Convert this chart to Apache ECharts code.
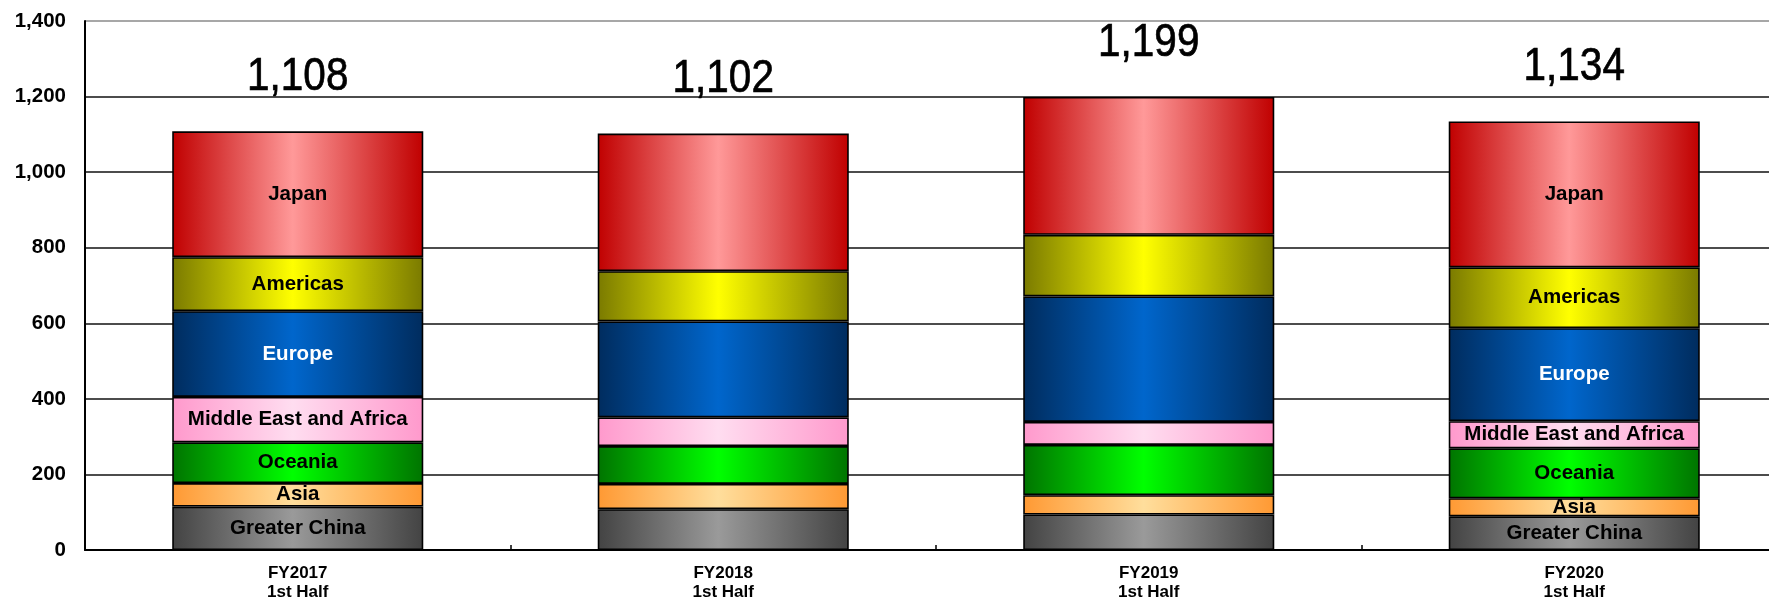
<!DOCTYPE html>
<html>
<head>
<meta charset="utf-8">
<script src="https://cdn.jsdelivr.net/npm/echarts@6/dist/echarts.min.js"></script>
<style>
  html, body { margin: 0; padding: 0; background: #fff; }
  #chart { width: 1769px; height: 602px; }
</style>
</head>
<body>
<div id="chart"></div>
<script>
// ---- data ----
const categories = ['FY2017\n1st Half', 'FY2018\n1st Half', 'FY2019\n1st Half', 'FY2020\n1st Half'];
const regions = ['Greater China', 'Asia', 'Oceania', 'Middle East and Africa', 'Europe', 'Americas', 'Japan'];
const greaterChina = [115, 108, 94, 89];
const asia = [62, 67, 51, 48];
const oceania = [108, 100, 133, 132];
const middleEastAfrica = [120, 76, 61, 72];
const europe = [227, 254, 332, 246];
const americas = [143, 133, 163, 161];
const japan = [333, 364, 365, 386];
const totals = [1108, 1102, 1199, 1134];
const showSegmentLabels = [true, false, false, true];
const yTicks = [0, 200, 400, 600, 800, 1000, 1200, 1400];

// ---- styles ----
const gradientStops = {
  'Greater China': ['#434343', '#9a9a9a'],
  'Asia': ['#FF9933', '#FFDE9C'],
  'Oceania': ['#007400', '#00FF00'],
  'Middle East and Africa': ['#FF99CC', '#FFDDF0'],
  'Europe': ['#002C5E', '#0066CC'],
  'Americas': ['#7A7A00', '#FFFF00'],
  'Japan': ['#C00000', '#FF9999']
};
const labelColors = { 'Europe': '#ffffff' };

const seriesValues = [greaterChina, asia, oceania, middleEastAfrica, europe, americas, japan];

function grad(name) {
  const [edge, mid] = gradientStops[name];
  return new echarts.graphic.LinearGradient(0, 0, 1, 0, [
    { offset: 0, color: edge },
    { offset: 0.48, color: mid },
    { offset: 1, color: edge }
  ]);
}

const fmt = v => Number(v).toLocaleString('en-US');

const barSeries = regions.map((name, si) => ({
  name: name,
  type: 'bar',
  stack: 'total',
  barWidth: '59%',
  itemStyle: { color: grad(name), borderColor: '#000', borderWidth: 1.6 },
  label: {
    position: 'inside',
    formatter: name,
    color: labelColors[name] || '#000',
    fontFamily: 'Liberation Sans, Arial, sans-serif',
    fontWeight: 'bold',
    fontSize: 20.5
  },
  emphasis: { disabled: true },
  data: seriesValues[si].map((v, ci) => ({ value: v, label: { show: showSegmentLabels[ci] } }))
}));

// total labels: narrow-looking text drawn above each stack top
const totalSeries = {
  name: 'Total',
  type: 'custom',
  z: 10,
  data: totals.map((t, i) => [i, t]),
  renderItem: function (params, api) {
    const pt = api.coord([api.value(0), api.value(1)]);
    return {
      type: 'text',
      x: pt[0],
      y: pt[1] - 31,
      scaleX: 0.88,
      style: {
        text: fmt(api.value(1)),
        font: '46px "Liberation Sans", Arial, sans-serif',
        fill: '#000',
        stroke: '#000',
        lineWidth: 0.7,
        textAlign: 'center',
        textVerticalAlign: 'bottom'
      }
    };
  }
};

const chart = echarts.init(document.getElementById('chart'), null, { renderer: 'canvas' });
chart.setOption({
  animation: false,
  backgroundColor: '#fff',
  grid: { left: 85, right: -18, top: 21, bottom: 52, containLabel: false, outerBoundsMode: 'none' },
  xAxis: {
    type: 'category',
    data: categories,
    axisLine: { lineStyle: { color: '#000', width: 2 } },
    axisTick: { show: true, inside: true, length: 5, lineStyle: { color: '#000', width: 1.5 } },
    axisLabel: {
      color: '#000',
      fontFamily: 'Liberation Sans, Arial, sans-serif',
      fontWeight: 'bold',
      fontSize: 17,
      lineHeight: 19,
      margin: 14
    }
  },
  yAxis: {
    type: 'value',
    min: yTicks[0],
    max: yTicks[yTicks.length - 1],
    interval: yTicks[1] - yTicks[0],
    axisLine: { show: true, lineStyle: { color: '#000', width: 2 } },
    axisTick: { show: false },
    axisLabel: {
      color: '#000',
      fontFamily: 'Liberation Sans, Arial, sans-serif',
      fontWeight: 'bold',
      fontSize: 20.5,
      margin: 19,
      formatter: v => fmt(v)
    },
    splitLine: {
      show: true,
      lineStyle: {
        color: ['#000', '#111', '#111', '#111', '#111', '#111', '#111', '#8a8a8a'],
        width: 1.6
      }
    }
  },
  series: [...barSeries, totalSeries]
});
</script>
</body>
</html>
